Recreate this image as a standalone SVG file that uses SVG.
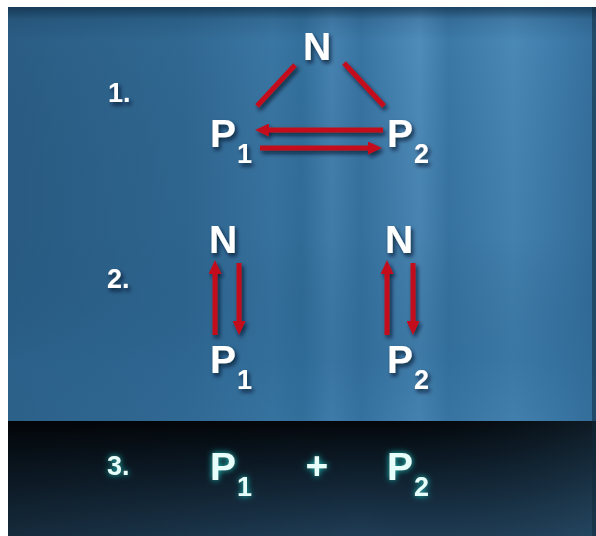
<svg xmlns="http://www.w3.org/2000/svg" width="596" height="536" viewBox="0 0 596 536">
<defs>
<linearGradient id="bgH" x1="0" y1="0" x2="1" y2="0">
<stop offset="0" stop-color="#2b5d84"/>
<stop offset="0.3" stop-color="#306892"/>
<stop offset="0.45" stop-color="#3a76a3"/>
<stop offset="0.5" stop-color="#33709c"/>
<stop offset="0.55" stop-color="#4682b0"/>
<stop offset="0.6" stop-color="#3874a2"/>
<stop offset="0.7" stop-color="#4f8cba"/>
<stop offset="0.75" stop-color="#3b78a6"/>
<stop offset="0.86" stop-color="#4a88b6"/>
<stop offset="0.93" stop-color="#3f7cab"/>
<stop offset="1" stop-color="#356f9c"/>
</linearGradient>
<linearGradient id="bgV" x1="0" y1="0" x2="0" y2="1">
<stop offset="0" stop-color="#0d2a42" stop-opacity="0.7"/>
<stop offset="0.03" stop-color="#0d2a42" stop-opacity="0.15"/>
<stop offset="0.08" stop-color="#0d2a42" stop-opacity="0"/>
<stop offset="0.55" stop-color="#1a4a70" stop-opacity="0.12"/>
<stop offset="0.85" stop-color="#2a6490" stop-opacity="0.45"/>
<stop offset="1" stop-color="#2f6a96" stop-opacity="0.3"/>
</linearGradient>
<linearGradient id="band" x1="0" y1="0" x2="0" y2="1">
<stop offset="0" stop-color="#03070b"/>
<stop offset="0.35" stop-color="#0c1a26"/>
<stop offset="1" stop-color="#1f3d56"/>
</linearGradient>
<linearGradient id="bandH" x1="0" y1="0" x2="1" y2="0">
<stop offset="0" stop-color="#000" stop-opacity="0.3"/>
<stop offset="0.6" stop-color="#000" stop-opacity="0"/>
<stop offset="1" stop-color="#3a6a8a" stop-opacity="0.2"/>
</linearGradient>
<filter id="sh" x="-30%" y="-30%" width="160%" height="160%">
<feDropShadow dx="2" dy="3" stdDeviation="2" flood-color="#061522" flood-opacity="0.75"/>
</filter>
<filter id="glow" x="-40%" y="-40%" width="180%" height="180%">
<feGaussianBlur in="SourceAlpha" stdDeviation="3" result="b"/>
<feFlood flood-color="#1fd0c8" flood-opacity="0.95"/>
<feComposite in2="b" operator="in" result="g"/>
<feMerge><feMergeNode in="g"/><feMergeNode in="SourceGraphic"/></feMerge>
</filter>
<marker id="ah" markerUnits="userSpaceOnUse" markerWidth="14" markerHeight="13" refX="3" refY="6.5" orient="auto">
<path d="M0,0 L14,6.5 L0,13 z" fill="#c3101b"/>
</marker>
<style>
.t{font-family:"Liberation Sans",Arial,sans-serif;font-weight:bold;fill:#ffffff;filter:url(#sh)}
.big{font-size:39px}
.sub{font-size:27px}
.num{font-size:27px}
.g{font-family:"Liberation Sans",Arial,sans-serif;font-weight:bold;fill:#e6fffb;filter:url(#glow)}
.c{stroke:#c3101b;stroke-width:5;fill:none}
.a{marker-end:url(#ah)}
</style>
</defs>
<rect x="0" y="0" width="596" height="536" fill="#ffffff"/>
<rect x="8" y="7" width="588" height="415" fill="url(#bgH)"/>
<rect x="8" y="7" width="588" height="415" fill="url(#bgV)"/>
<rect x="8" y="421" width="588" height="115" fill="url(#band)"/>
<rect x="8" y="421" width="588" height="115" fill="url(#bandH)"/>
<rect x="592" y="7" width="4" height="529" fill="#10283a" opacity="0.5"/>

<g id="connectors" filter="url(#sh)">
<line class="c" x1="295" y1="65" x2="257" y2="106"/>
<line class="c" x1="344" y1="63" x2="384" y2="106"/>
<line class="c a" x1="383" y1="130" x2="266" y2="130"/>
<line class="c a" x1="260" y1="148" x2="371" y2="148"/>
<line class="c a" x1="215" y1="335" x2="215" y2="271"/>
<line class="c a" x1="239" y1="263" x2="239" y2="324"/>
<line class="c a" x1="387" y1="335" x2="387" y2="271"/>
<line class="c a" x1="413" y1="263" x2="413" y2="324"/>
</g>

<g id="label1"><text class="t num" x="108" y="102">1.</text></g>
<g id="n1"><text class="t big" x="303" y="60">N</text></g>
<g id="p1a"><text class="t big" x="210" y="147">P<tspan class="sub" dx="1" dy="16">1</tspan></text></g>
<g id="p2a"><text class="t big" x="387" y="147">P<tspan class="sub" dx="1" dy="16">2</tspan></text></g>

<g id="label2"><text class="t num" x="107" y="288">2.</text></g>
<g id="n2a"><text class="t big" x="209" y="253">N</text></g>
<g id="p1b"><text class="t big" x="210" y="373">P<tspan class="sub" dx="1" dy="16">1</tspan></text></g>
<g id="n2b"><text class="t big" x="385" y="253">N</text></g>
<g id="p2b"><text class="t big" x="387" y="373">P<tspan class="sub" dx="1" dy="16">2</tspan></text></g>

<g id="label3"><text class="g num" x="107" y="475">3.</text></g>
<g id="p1c"><text class="g big" x="210" y="480">P<tspan class="sub" dx="1" dy="16">1</tspan></text></g>
<g id="plus"><text class="g big" x="317" y="479" text-anchor="middle">+</text></g>
<g id="p2c"><text class="g big" x="387" y="480">P<tspan class="sub" dx="1" dy="16">2</tspan></text></g>
</svg>
